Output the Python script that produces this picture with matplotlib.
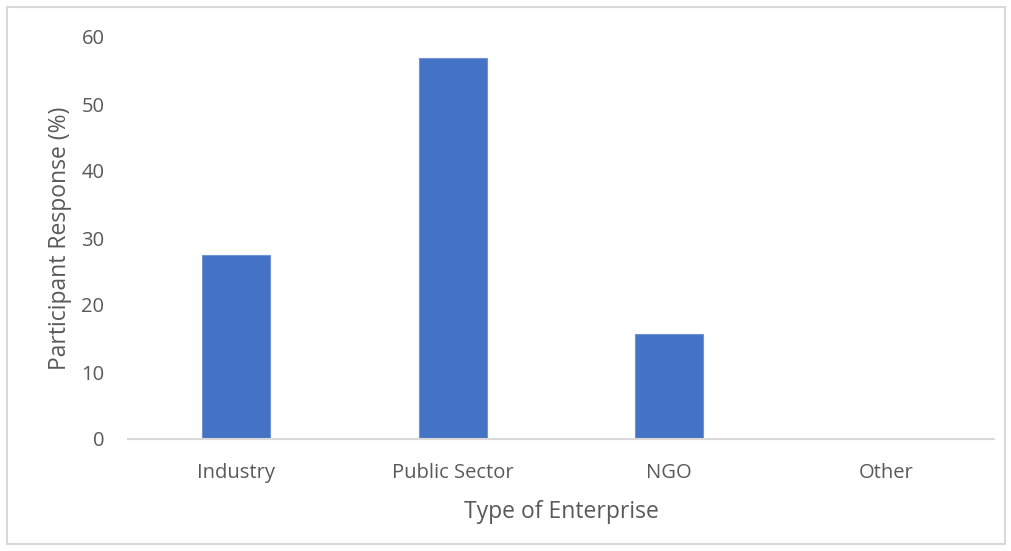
import matplotlib
matplotlib.use("Agg")
import matplotlib.pyplot as plt
from matplotlib.patches import Rectangle

categories = ["Industry", "Public Sector", "NGO", "Other"]
values = [27.4, 56.8, 15.6, 0.0]
yticks = [0, 10, 20, 30, 40, 50, 60]

plt.rcParams['font.family'] = ['Open Sans', 'DejaVu Sans']

fig = plt.figure(figsize=(10.12, 5.51), dpi=100)
ax = fig.add_axes([128/1012, 1-439/551, (994-128)/1012, (439-37)/551])

x = list(range(len(categories)))
ax.bar(x, values, width=0.314, color="#4472C4", edgecolor="#6f94d6", linewidth=0.8, zorder=2)

ax.set_xlim(-0.5, len(categories) - 0.5)
ax.set_ylim(0, 60)
ax.set_yticks(yticks)
ax.set_xticks(x)
ax.set_xticklabels(categories)

for s in ["top", "right", "left"]:
    ax.spines[s].set_visible(False)
ax.spines["bottom"].set_color("#d9d9d9")
ax.spines["bottom"].set_linewidth(1.5)
ax.tick_params(axis="both", length=0, labelsize=14.5, labelcolor="#595959")
ax.tick_params(axis="y", pad=17)
ax.tick_params(axis="x", pad=17.5)

ax.set_xlabel("Type of Enterprise", fontsize=16.5, color="#595959", labelpad=12)
ax.set_ylabel("Participant Response (%)", fontsize=16.5, color="#595959", labelpad=7)

fig.patches.append(Rectangle((7/1012, 7/551), (1005-7)/1012, (544-7)/551,
                             transform=fig.transFigure, fill=False,
                             edgecolor="#d9d9d9", linewidth=1.5))

fig.savefig("out.png", dpi=100)
